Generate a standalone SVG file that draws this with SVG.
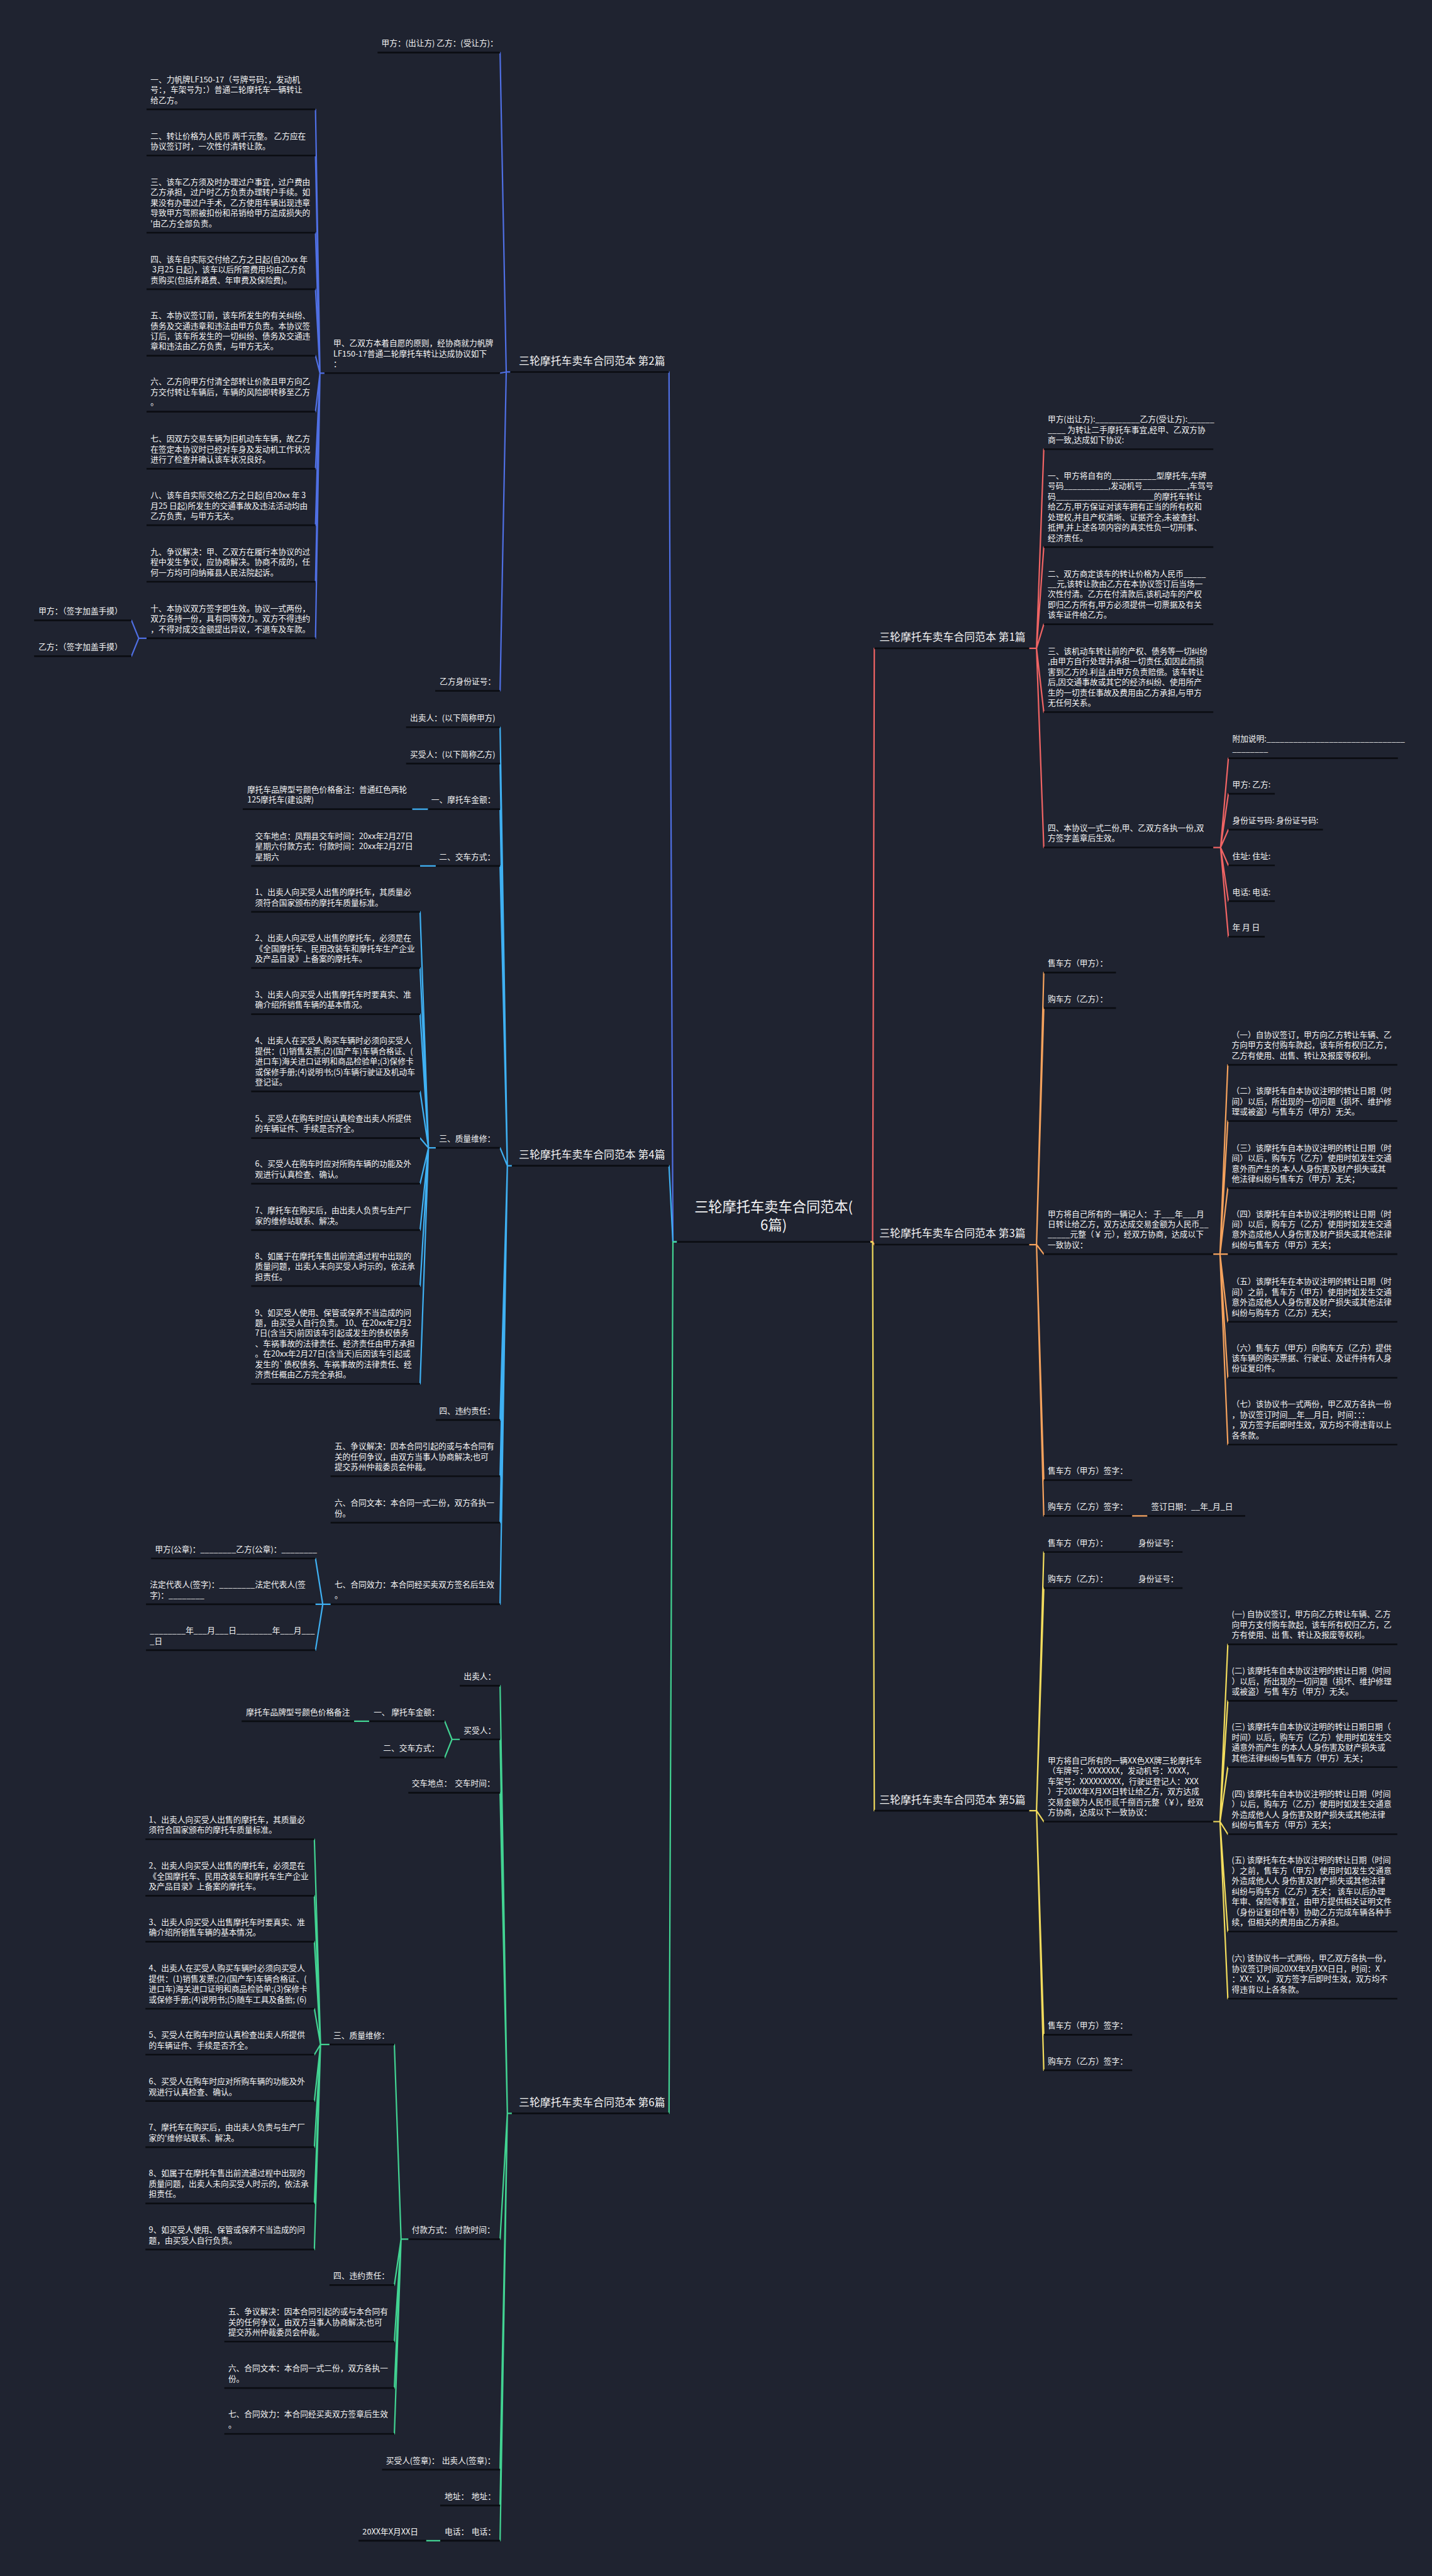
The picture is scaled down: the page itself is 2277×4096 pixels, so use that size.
<svg xmlns="http://www.w3.org/2000/svg" width="2277" height="4096" viewBox="0 0 2277 4096">
<style>
.t{font-family:"Noto Sans CJK SC","Noto Sans",sans-serif;font-size:14.3px;fill:#f4f4f4}
.lb{font-size:19px}
.rt{font-size:25px}
.u{stroke:#0b0d12;stroke-width:3;fill:none}
.k{fill:none;stroke-width:2.5;stroke-linecap:round;stroke-linejoin:round}
.b2{stroke:#4f6fe3}.b4{stroke:#3fb0f2}.b6{stroke:#42d392}.b1{stroke:#f06464}.b3{stroke:#f5a25d}.b5{stroke:#f2dc5d}
</style>
<rect width="2277" height="4096" fill="#1f2330"/>
<g transform="scale(0.889453)">
<g id="connectors">
<path class="k b2" d="M1210 2220H1203L1196 665"/>
<path class="k b4" d="M1210 2220H1203L1196 2084"/>
<path class="k b6" d="M1210 2220H1203L1196 3778"/>
<path class="k b1" d="M1556 2220H1560L1563 1159"/>
<path class="k b3" d="M1556 2220H1560L1563 2225"/>
<path class="k b5" d="M1556 2220H1560L1563 3237"/>
<path class="k b2" d="M912 665H905L894 94M905 665L894 667M905 665L894 1235"/>
<path class="k b2" d="M580 667H572L564 195.5M572 667L564 278M572 667L564 416M572 667L564 517M572 667L564 636M572 667L564 736M572 667L564 838M572 667L564 939M572 667L564 1040M572 667L564 1141"/>
<path class="k b2" d="M262 1141H248L235 1109M248 1141L235 1173"/>
<path class="k b4" d="M915 2084H907L894 1300M907 2084L894 1365M907 2084L894 1446.5M907 2084L894 1548M907 2084L894 2052M907 2084L894 2538.5M907 2084L894 2639M907 2084L894 2722M907 2084L894 2868"/>
<path class="k b4" d="M765 1446.5H737M779 1548H751"/>
<path class="k b4" d="M779 2052H766L751 1630M766 2052L751 1730.5M766 2052L751 1813M766 2052L751 1951M766 2052L751 2034.5M766 2052L751 2116M766 2052L751 2199M766 2052L751 2299M766 2052L751 2474"/>
<path class="k b4" d="M591 2868H577L564 2786M577 2868L564 2868M577 2868L564 2950"/>
<path class="k b6" d="M915 3778H907L894 3013.5M907 3778L894 3109.5M907 3778L894 3205M907 3778L894 4003M907 3778L894 4415M907 3778L894 4479M907 3778L894 4542"/>
<path class="k b6" d="M822 3109.5H808L795 3077M808 3109.5L795 3142M660 3077H633M787 4542H762"/>
<path class="k b6" d="M730 4003H717L705 3655M717 4003L705 4085M717 4003L705 4186M717 4003L705 4269M717 4003L705 4351"/>
<path class="k b6" d="M589 3655H573L562 3288M573 3655L562 3389M573 3655L562 3471M573 3655L562 3591M573 3655L562 3673M573 3655L562 3756M573 3655L562 3838.5M573 3655L562 3939M573 3655L562 4021.5"/>
<path class="k b1" d="M1840 1159H1853L1866 803M1853 1159L1866 978M1853 1159L1866 1116M1853 1159L1866 1273M1853 1159L1866 1515"/>
<path class="k b1" d="M2169 1515H2182L2196 1355.5M2182 1515L2196 1419M2182 1515L2196 1483M2182 1515L2196 1547M2182 1515L2196 1611M2182 1515L2196 1674.5"/>
<path class="k b3" d="M1840 2225H1853L1866 1738.5M1853 2225L1866 1802M1853 2225L1866 2242M1853 2225L1866 2646M1853 2225L1866 2710"/>
<path class="k b3" d="M2169 2242H2181L2195 1903.5M2181 2242L2195 2004M2181 2242L2195 2124M2181 2242L2195 2242M2181 2242L2195 2363M2181 2242L2195 2463M2181 2242L2195 2582.5M2024 2710H2051"/>
<path class="k b5" d="M1840 3237H1853L1866 2774.5M1853 3237L1866 2839M1853 3237L1866 3256.5M1853 3237L1866 3637.5M1853 3237L1866 3701"/>
<path class="k b5" d="M2169 3256.5H2181L2195 2939.5M2181 3256.5L2195 3040.5M2181 3256.5L2195 3159M2181 3256.5L2195 3279M2181 3256.5L2195 3453M2181 3256.5L2195 3573"/>
</g>

<g id="root"><text class="t rt" text-anchor="middle"><tspan x="1383" y="2167">三轮摩托车卖车合同范本(</tspan><tspan x="1383" y="2199">6篇)</tspan></text><path class="u" d="M1210 2220H1556"/></g>

<g id="p2"><text class="t lb" x="1189" y="652" text-anchor="end">三轮摩托车卖车合同范本 第2篇</text><path class="u" d="M912 665H1196"/></g>
<g id="p4"><text class="t lb" x="1189" y="2071" text-anchor="end">三轮摩托车卖车合同范本 第4篇</text><path class="u" d="M915 2084H1196"/></g>
<g id="p6"><text class="t lb" x="1189" y="3765" text-anchor="end">三轮摩托车卖车合同范本 第6篇</text><path class="u" d="M915 3778H1196"/></g>
<g id="p1"><text class="t lb" x="1572" y="1146">三轮摩托车卖车合同范本 第1篇</text><path class="u" d="M1563 1159H1840"/></g>
<g id="p3"><text class="t lb" x="1572" y="2212">三轮摩托车卖车合同范本 第3篇</text><path class="u" d="M1563 2225H1840"/></g>
<g id="p5"><text class="t lb" x="1572" y="3224">三轮摩托车卖车合同范本 第5篇</text><path class="u" d="M1563 3237H1840"/></g>

<!-- 第2篇 -->
<g id="n2-a1"><text class="t" x="682" y="82.5">甲方：(出让方) 乙方：(受让方)：</text><path class="u" d="M675 94H894"/></g>
<g id="n2-a2"><text class="t"><tspan x="596" y="618.5">甲、乙双方本着自愿的原则，经协商就力帆牌</tspan><tspan x="596" y="637">LF150-17普通二轮摩托车转让达成协议如下</tspan><tspan x="596" y="655.5">：</tspan></text><path class="u" d="M580 667H894"/></g>
<g id="n2-a3"><text class="t" x="786" y="1223.5">乙方身份证号：</text><path class="u" d="M778 1235H894"/></g>
<g id="n2-i1"><text class="t"><tspan x="269" y="147">一、力帆牌LF150-17（号牌号码：，发动机</tspan><tspan x="269" y="165.5">号：，车架号为：）普通二轮摩托车一辆转让</tspan><tspan x="269" y="184">给乙方。</tspan></text><path class="u" d="M262 195.5H564"/></g>
<g id="n2-i2"><text class="t"><tspan x="269" y="248">二、转让价格为人民币 两千元整。 乙方应在</tspan><tspan x="269" y="266.5">协议签订时，一次性付清转让款。</tspan></text><path class="u" d="M262 278H564"/></g>
<g id="n2-i3"><text class="t"><tspan x="269" y="330.5">三、该车乙方须及时办理过户事宜，过户费由</tspan><tspan x="269" y="349">乙方承担，过户时乙方负责办理转户手续。如</tspan><tspan x="269" y="367.5">果没有办理过户手术，乙方使用车辆出现违章</tspan><tspan x="269" y="386">导致甲方驾照被扣份和吊销给甲方造成损失的</tspan><tspan x="269" y="404.5">'由乙方全部负责。</tspan></text><path class="u" d="M262 416H564"/></g>
<g id="n2-i4"><text class="t"><tspan x="269" y="468.5">四、该车自实际交付给乙方之日起(自20xx 年</tspan><tspan x="269" y="487"> 3月25 日起)，该车以后所需费用均由乙方负</tspan><tspan x="269" y="505.5">责购买(包括养路费、年审费及保险费)。</tspan></text><path class="u" d="M262 517H564"/></g>
<g id="n2-i5"><text class="t"><tspan x="269" y="569">五、本协议签订前，该车所发生的有关纠纷、</tspan><tspan x="269" y="587.5">债务及交通违章和违法由甲方负责。本协议签</tspan><tspan x="269" y="606">订后，该车所发生的一切纠纷、债务及交通违</tspan><tspan x="269" y="624.5">章和违法由乙方负责，与甲方无关。</tspan></text><path class="u" d="M262 636H564"/></g>
<g id="n2-i6"><text class="t"><tspan x="269" y="687.5">六、乙方向甲方付清全部转让价款且甲方向乙</tspan><tspan x="269" y="706">方交付转让车辆后，车辆的风险即转移至乙方</tspan><tspan x="269" y="724.5">。</tspan></text><path class="u" d="M262 736H564"/></g>
<g id="n2-i7"><text class="t"><tspan x="269" y="789.5">七、因双方交易车辆为旧机动车车辆，故乙方</tspan><tspan x="269" y="808">在签定本协议时已经对车身及发动机工作状况</tspan><tspan x="269" y="826.5">进行了检查并确认该车状况良好。</tspan></text><path class="u" d="M262 838H564"/></g>
<g id="n2-i8"><text class="t"><tspan x="269" y="890.5">八、该车自实际交给乙方之日起(自20xx 年 3</tspan><tspan x="269" y="909">月25 日起)所发生的交通事故及违法活动均由</tspan><tspan x="269" y="927.5">乙方负责，与甲方无关。</tspan></text><path class="u" d="M262 939H564"/></g>
<g id="n2-i9"><text class="t"><tspan x="269" y="991.5">九、争议解决：甲、乙双方在履行本协议的过</tspan><tspan x="269" y="1010">程中发生争议，应协商解决。协商不成的，任</tspan><tspan x="269" y="1028.5">何一方均可向纳雍县人民法院起诉。</tspan></text><path class="u" d="M262 1040H564"/></g>
<g id="n2-i10"><text class="t"><tspan x="269" y="1092.5">十、本协议双方签字即生效。协议一式两份，</tspan><tspan x="269" y="1111">双方各持一份，具有同等效力。双方不得违约</tspan><tspan x="269" y="1129.5">，不得对成交金额提出异议，不退车及车款。</tspan></text><path class="u" d="M262 1141H564"/></g>
<g id="n2-s1"><text class="t" x="69" y="1097.5">甲方：（签字加盖手摸）</text><path class="u" d="M61 1109H235"/></g>
<g id="n2-s2"><text class="t" x="69" y="1161.5">乙方：（签字加盖手摸）</text><path class="u" d="M61 1173H235"/></g>

<!-- 第4篇 -->
<g id="n4-1"><text class="t" x="733" y="1288.5">出卖人：(以下简称甲方)</text><path class="u" d="M726 1300H894"/></g>
<g id="n4-2"><text class="t" x="733" y="1353.5">买受人：(以下简称乙方)</text><path class="u" d="M726 1365H894"/></g>
<g id="n4-3"><text class="t" x="771" y="1435">一、摩托车金额：</text><path class="u" d="M765 1446.5H894"/></g>
<g id="n4-3c"><text class="t"><tspan x="442" y="1416.5">摩托车品牌型号颜色价格备注：普通红色两轮</tspan><tspan x="442" y="1435">125摩托车(建设牌)</tspan></text><path class="u" d="M434 1446.5H737"/></g>
<g id="n4-4"><text class="t" x="785" y="1536.5">二、交车方式：</text><path class="u" d="M779 1548H894"/></g>
<g id="n4-4c"><text class="t"><tspan x="456" y="1499.5">交车地点：凤翔县交车时间：20xx年2月27日</tspan><tspan x="456" y="1518">星期六付款方式：付款时间：20xx年2月27日</tspan><tspan x="456" y="1536.5">星期六</tspan></text><path class="u" d="M449 1548H751"/></g>
<g id="n4-5"><text class="t" x="785" y="2040.5">三、质量维修：</text><path class="u" d="M779 2052H894"/></g>
<g id="n4-q1"><text class="t"><tspan x="456" y="1600">1、出卖人向买受人出售的摩托车，其质量必</tspan><tspan x="456" y="1618.5">须符合国家颁布的摩托车质量标准。</tspan></text><path class="u" d="M449 1630H751"/></g>
<g id="n4-q2"><text class="t"><tspan x="456" y="1682">2、出卖人向买受人出售的摩托车，必须是在</tspan><tspan x="456" y="1700.5">《全国摩托车、民用改装车和摩托车生产企业</tspan><tspan x="456" y="1719">及产品目录》上备案的摩托车。</tspan></text><path class="u" d="M449 1730.5H751"/></g>
<g id="n4-q3"><text class="t"><tspan x="456" y="1783">3、出卖人向买受人出售摩托车时要真实、准</tspan><tspan x="456" y="1801.5">确介绍所销售车辆的基本情况。</tspan></text><path class="u" d="M449 1813H751"/></g>
<g id="n4-q4"><text class="t"><tspan x="456" y="1865.5">4、出卖人在买受人购买车辆时必须向买受人</tspan><tspan x="456" y="1884">提供：(1)销售发票;(2)(国产车)车辆合格证、(</tspan><tspan x="456" y="1902.5">进口车)海关进口证明和商品检验单;(3)保修卡</tspan><tspan x="456" y="1921">或保修手册;(4)说明书;(5)车辆行驶证及机动车</tspan><tspan x="456" y="1939.5">登记证。</tspan></text><path class="u" d="M449 1951H751"/></g>
<g id="n4-q5"><text class="t"><tspan x="456" y="2004.5">5、买受人在购车时应认真检查出卖人所提供</tspan><tspan x="456" y="2023">的车辆证件、手续是否齐全。</tspan></text><path class="u" d="M449 2034.5H751"/></g>
<g id="n4-q6"><text class="t"><tspan x="456" y="2086">6、买受人在购车时应对所购车辆的功能及外</tspan><tspan x="456" y="2104.5">观进行认真检查、确认。</tspan></text><path class="u" d="M449 2116H751"/></g>
<g id="n4-q7"><text class="t"><tspan x="456" y="2169">7、摩托车在购买后，由出卖人负责与生产厂</tspan><tspan x="456" y="2187.5">家的维修站联系、解决。</tspan></text><path class="u" d="M449 2199H751"/></g>
<g id="n4-q8"><text class="t"><tspan x="456" y="2250.5">8、如属于在摩托车售出前流通过程中出现的</tspan><tspan x="456" y="2269">质量问题，出卖人未向买受人时示的，依法承</tspan><tspan x="456" y="2287.5">担责任。</tspan></text><path class="u" d="M449 2299H751"/></g>
<g id="n4-q9"><text class="t"><tspan x="456" y="2351.5">9、如买受人使用、保管或保养不当造成的问</tspan><tspan x="456" y="2370">题，由买受人自行负责。 10、在20xx年2月2</tspan><tspan x="456" y="2388.5">7日(含当天)前因该车引起或发生的债权债务</tspan><tspan x="456" y="2407">、车祸事故的法律责任、经济责任由甲方承担</tspan><tspan x="456" y="2425.5">。在20xx年2月27日(含当天)后因该车引起或</tspan><tspan x="456" y="2444">发生的`债权债务、车祸事故的法律责任、经</tspan><tspan x="456" y="2462.5">济责任概由乙方完全承担。</tspan></text><path class="u" d="M449 2474H751"/></g>
<g id="n4-6"><text class="t" x="785" y="2527">四、违约责任：</text><path class="u" d="M779 2538.5H894"/></g>
<g id="n4-7"><text class="t"><tspan x="598" y="2590.5">五、争议解决：因本合同引起的或与本合同有</tspan><tspan x="598" y="2609">关的任何争议，由双方当事人协商解决;也可</tspan><tspan x="598" y="2627.5">提交苏州仲裁委员会仲裁。</tspan></text><path class="u" d="M591 2639H894"/></g>
<g id="n4-8"><text class="t"><tspan x="598" y="2692">六、合同文本：本合同一式二份，双方各执一</tspan><tspan x="598" y="2710.5">份。</tspan></text><path class="u" d="M591 2722H894"/></g>
<g id="n4-9"><text class="t"><tspan x="598" y="2838">七、合同效力：本合同经买卖双方签名后生效</tspan><tspan x="598" y="2856.5">。</tspan></text><path class="u" d="M591 2868H894"/></g>
<g id="n4-9a"><text class="t" x="277" y="2774.5">甲方(公章)：________乙方(公章)：________</text><path class="u" d="M270 2786H564"/></g>
<g id="n4-9b"><text class="t"><tspan x="268" y="2838">法定代表人(签字)：________法定代表人(签</tspan><tspan x="268" y="2856.5">字)：________</tspan></text><path class="u" d="M261 2868H564"/></g>
<g id="n4-9c"><text class="t"><tspan x="268" y="2920">________年___月___日________年___月___</tspan><tspan x="268" y="2938.5">_日</tspan></text><path class="u" d="M261 2950H564"/></g>

<!-- 第6篇 -->
<g id="n6-1"><text class="t" x="829" y="3002">出卖人：</text><path class="u" d="M822 3013.5H894"/></g>
<g id="n6-2"><text class="t" x="829" y="3098">买受人：</text><path class="u" d="M822 3109.5H894"/></g>
<g id="n6-2a"><text class="t" x="668" y="3065.5">一、 摩托车金额：</text><path class="u" d="M660 3077H795"/></g>
<g id="n6-2ac"><text class="t" x="440" y="3065.5">摩托车品牌型号颜色价格备注</text><path class="u" d="M432 3077H633"/></g>
<g id="n6-2b"><text class="t" x="685" y="3130.5">二、交车方式：</text><path class="u" d="M679 3142H795"/></g>
<g id="n6-3"><text class="t" y="3193.5"><tspan x="736">交车地点：</tspan><tspan x="813">交车时间：</tspan></text><path class="u" d="M730 3205H894"/></g>
<g id="n6-4"><text class="t" y="3991.5"><tspan x="736">付款方式：</tspan><tspan x="813">付款时间：</tspan></text><path class="u" d="M730 4003H894"/></g>
<g id="n6-4a"><text class="t" x="596" y="3643.5">三、质量维修：</text><path class="u" d="M589 3655H705"/></g>
<g id="n6-q1"><text class="t"><tspan x="266" y="3258">1、出卖人向买受人出售的摩托车，其质量必</tspan><tspan x="266" y="3276.5">须符合国家颁布的摩托车质量标准。</tspan></text><path class="u" d="M260 3288H562"/></g>
<g id="n6-q2"><text class="t"><tspan x="266" y="3340.5">2、出卖人向买受人出售的摩托车，必须是在</tspan><tspan x="266" y="3359">《全国摩托车、民用改装车和摩托车生产企业</tspan><tspan x="266" y="3377.5">及产品目录》上备案的摩托车。</tspan></text><path class="u" d="M260 3389H562"/></g>
<g id="n6-q3"><text class="t"><tspan x="266" y="3441">3、出卖人向买受人出售摩托车时要真实、准</tspan><tspan x="266" y="3459.5">确介绍所销售车辆的基本情况。</tspan></text><path class="u" d="M260 3471H562"/></g>
<g id="n6-q4"><text class="t"><tspan x="266" y="3524">4、出卖人在买受人购买车辆时必须向买受人</tspan><tspan x="266" y="3542.5">提供：(1)销售发票;(2)(国产车)车辆合格证、(</tspan><tspan x="266" y="3561">进口车)海关进口证明和商品检验单;(3)保修卡</tspan><tspan x="266" y="3579.5">或保修手册;(4)说明书;(5)随车工具及备胎; (6)</tspan></text><path class="u" d="M260 3591H562"/></g>
<g id="n6-q5"><text class="t"><tspan x="266" y="3643">5、买受人在购车时应认真检查出卖人所提供</tspan><tspan x="266" y="3661.5">的车辆证件、手续是否齐全。</tspan></text><path class="u" d="M260 3673H562"/></g>
<g id="n6-q6"><text class="t"><tspan x="266" y="3726">6、买受人在购车时应对所购车辆的功能及外</tspan><tspan x="266" y="3744.5">观进行认真检查、确认。</tspan></text><path class="u" d="M260 3756H562"/></g>
<g id="n6-q7"><text class="t"><tspan x="266" y="3808.5">7、摩托车在购买后，由出卖人负责与生产厂</tspan><tspan x="266" y="3827">家的'维修站联系、解决。</tspan></text><path class="u" d="M260 3838.5H562"/></g>
<g id="n6-q8"><text class="t"><tspan x="266" y="3890.5">8、如属于在摩托车售出前流通过程中出现的</tspan><tspan x="266" y="3909">质量问题，出卖人未向买受人时示的，依法承</tspan><tspan x="266" y="3927.5">担责任。</tspan></text><path class="u" d="M260 3939H562"/></g>
<g id="n6-q9"><text class="t"><tspan x="266" y="3991.5">9、如买受人使用、保管或保养不当造成的问</tspan><tspan x="266" y="4010">题，由买受人自行负责。</tspan></text><path class="u" d="M260 4021.5H562"/></g>
<g id="n6-4b"><text class="t" x="596" y="4073.5">四、违约责任：</text><path class="u" d="M589 4085H705"/></g>
<g id="n6-4c"><text class="t"><tspan x="408" y="4137.5">五、争议解决：因本合同引起的或与本合同有</tspan><tspan x="408" y="4156">关的任何争议，由双方当事人协商解决;也可</tspan><tspan x="408" y="4174.5">提交苏州仲裁委员会仲裁。</tspan></text><path class="u" d="M401 4186H705"/></g>
<g id="n6-4d"><text class="t"><tspan x="408" y="4239">六、合同文本：本合同一式二份，双方各执一</tspan><tspan x="408" y="4257.5">份。</tspan></text><path class="u" d="M401 4269H705"/></g>
<g id="n6-4e"><text class="t"><tspan x="408" y="4321">七、合同效力：本合同经买卖双方签章后生效</tspan><tspan x="408" y="4339.5">。</tspan></text><path class="u" d="M401 4351H705"/></g>
<g id="n6-5"><text class="t" y="4403.5"><tspan x="690">买受人(签章)：</tspan><tspan x="790">出卖人(签章)：</tspan></text><path class="u" d="M683 4415H894"/></g>
<g id="n6-6"><text class="t" y="4467.5"><tspan x="795">地址：</tspan><tspan x="843">地址：</tspan></text><path class="u" d="M787 4479H894"/></g>
<g id="n6-7"><text class="t" y="4530.5"><tspan x="795">电话：</tspan><tspan x="843">电话：</tspan></text><path class="u" d="M787 4542H894"/></g>
<g id="n6-7c"><text class="t" x="648" y="4530.5">20XX年X月XX日</text><path class="u" d="M641 4542H762"/></g>

<!-- 第1篇 -->
<g id="n1-1"><text class="t"><tspan x="1873" y="754.5">甲方(出让方):__________乙方(受让方):______</tspan><tspan x="1873" y="773">____ 为转让二手摩托车事宜,经甲、乙双方协</tspan><tspan x="1873" y="791.5">商一致,达成如下协议:</tspan></text><path class="u" d="M1866 803H2169"/></g>
<g id="n1-2"><text class="t"><tspan x="1873" y="855.5">一、甲方将自有的__________型摩托车,车牌</tspan><tspan x="1873" y="874">号码__________,发动机号__________,车驾号</tspan><tspan x="1873" y="892.5">码______________________的摩托车转让</tspan><tspan x="1873" y="911">给乙方,甲方保证对该车拥有正当的所有权和</tspan><tspan x="1873" y="929.5">处理权,并且产权清晰、证据齐全,未被查封、</tspan><tspan x="1873" y="948">抵押,并上述各项内容的真实性负一切刑事、</tspan><tspan x="1873" y="966.5">经济责任。</tspan></text><path class="u" d="M1866 978H2169"/></g>
<g id="n1-3"><text class="t"><tspan x="1873" y="1030.5">二、双方商定该车的转让价格为人民币_____</tspan><tspan x="1873" y="1049">__元,该转让款由乙方在本协议签订后当场一</tspan><tspan x="1873" y="1067.5">次性付清。乙方在付清款后,该机动车的产权</tspan><tspan x="1873" y="1086">即归乙方所有,甲方必须提供一切票据及有关</tspan><tspan x="1873" y="1104.5">该车证件给乙方。</tspan></text><path class="u" d="M1866 1116H2169"/></g>
<g id="n1-4"><text class="t"><tspan x="1873" y="1169">三、该机动车转让前的产权、债务等一切纠纷</tspan><tspan x="1873" y="1187.5">,由甲方自行处理并承担一切责任,如因此而损</tspan><tspan x="1873" y="1206">害到乙方的.利益,由甲方负责赔偿。该车转让</tspan><tspan x="1873" y="1224.5">后,因交通事故或其它的经济纠纷、使用所产</tspan><tspan x="1873" y="1243">生的一切责任事故及费用由乙方承担,与甲方</tspan><tspan x="1873" y="1261.5">无任何关系。</tspan></text><path class="u" d="M1866 1273H2169"/></g>
<g id="n1-5"><text class="t"><tspan x="1873" y="1485">四、本协议一式二份,甲、乙双方各执一份,双</tspan><tspan x="1873" y="1503.5">方签字盖章后生效。</tspan></text><path class="u" d="M1866 1515H2169"/></g>
<g id="n1-5a"><text class="t"><tspan x="2203" y="1325.5">附加说明:_______________________________</tspan><tspan x="2203" y="1344">________</tspan></text><path class="u" d="M2196 1355.5H2499"/></g>
<g id="n1-5b"><text class="t" x="2203" y="1407.5">甲方: 乙方:</text><path class="u" d="M2196 1419H2279"/></g>
<g id="n1-5c"><text class="t" x="2203" y="1471.5">身份证号码: 身份证号码:</text><path class="u" d="M2196 1483H2365"/></g>
<g id="n1-5d"><text class="t" x="2203" y="1535.5">住址: 住址:</text><path class="u" d="M2196 1547H2279"/></g>
<g id="n1-5e"><text class="t" x="2203" y="1599.5">电话: 电话:</text><path class="u" d="M2196 1611H2279"/></g>
<g id="n1-5f"><text class="t" x="2203" y="1663">年 月 日</text><path class="u" d="M2196 1674.5H2261"/></g>

<!-- 第3篇 -->
<g id="n3-1"><text class="t" x="1873" y="1727">售车方（甲方）：</text><path class="u" d="M1866 1738.5H1995"/></g>
<g id="n3-2"><text class="t" x="1873" y="1790.5">购车方（乙方）：</text><path class="u" d="M1866 1802H1995"/></g>
<g id="n3-3"><text class="t"><tspan x="1873" y="2175">甲方将自己所有的一辆记人：  于___年___月</tspan><tspan x="1873" y="2193.5">日转让给乙方，双方达成交易金额为人民币__</tspan><tspan x="1873" y="2212">_____元整（￥ 元），经双方协商，达成以下</tspan><tspan x="1873" y="2230.5">一致协议：</tspan></text><path class="u" d="M1866 2242H2169"/></g>
<g id="n3-c1"><text class="t"><tspan x="2202" y="1855">（一）自协议签订，甲方向乙方转让车辆、乙</tspan><tspan x="2202" y="1873.5">方向甲方支付购车款起，该车所有权归乙方，</tspan><tspan x="2202" y="1892">乙方有使用、出售、转让及报废等权利。</tspan></text><path class="u" d="M2195 1903.5H2498"/></g>
<g id="n3-c2"><text class="t"><tspan x="2202" y="1955.5">（二）该摩托车自本协议注明的转让日期（时</tspan><tspan x="2202" y="1974">间）以后，所出现的一切问题（损坏、维护修</tspan><tspan x="2202" y="1992.5">理或被盗）与售车方（甲方）无关。</tspan></text><path class="u" d="M2195 2004H2498"/></g>
<g id="n3-c3"><text class="t"><tspan x="2202" y="2057">（三）该摩托车自本协议注明的转让日期（时</tspan><tspan x="2202" y="2075.5">间）以后，购车方（乙方）使用时如发生交通</tspan><tspan x="2202" y="2094">意外而产生的.本人人身伤害及财产损失或其</tspan><tspan x="2202" y="2112.5">他法律纠纷与售车方（甲方）无关；</tspan></text><path class="u" d="M2195 2124H2498"/></g>
<g id="n3-c4"><text class="t"><tspan x="2202" y="2175">（四）该摩托车自本协议注明的转让日期（时</tspan><tspan x="2202" y="2193.5">间）以后，购车方（乙方）使用时如发生交通</tspan><tspan x="2202" y="2212">意外造成他人人身伤害及财产损失或其他法律</tspan><tspan x="2202" y="2230.5">纠纷与售车方（甲方）无关；</tspan></text><path class="u" d="M2195 2242H2498"/></g>
<g id="n3-c5"><text class="t"><tspan x="2202" y="2296">（五）该摩托车在本协议注明的转让日期（时</tspan><tspan x="2202" y="2314.5">间）之前，售车方（甲方）使用时如发生交通</tspan><tspan x="2202" y="2333">意外造成他人人身伤害及财产损失或其他法律</tspan><tspan x="2202" y="2351.5">纠纷与购车方（乙方）无关；</tspan></text><path class="u" d="M2195 2363H2498"/></g>
<g id="n3-c6"><text class="t"><tspan x="2202" y="2414.5">（六）售车方（甲方）向购车方（乙方）提供</tspan><tspan x="2202" y="2433">该车辆的购买票据、行驶证、及证件持有人身</tspan><tspan x="2202" y="2451.5">份证复印件。</tspan></text><path class="u" d="M2195 2463H2498"/></g>
<g id="n3-c7"><text class="t"><tspan x="2202" y="2515.5">（七）该协议书一式两份，甲乙双方各执一份</tspan><tspan x="2202" y="2534">，协议签订时间__年__月日，时间：：：</tspan><tspan x="2202" y="2552.5">，双方签字后即时生效，双方均不得违背以上</tspan><tspan x="2202" y="2571">各条款。</tspan></text><path class="u" d="M2195 2582.5H2498"/></g>
<g id="n3-4"><text class="t" x="1873" y="2634.5">售车方（甲方）签字：</text><path class="u" d="M1866 2646H2024"/></g>
<g id="n3-5"><text class="t" x="1873" y="2698.5">购车方（乙方）签字：</text><path class="u" d="M1866 2710H2024"/></g>
<g id="n3-5c"><text class="t" x="2058" y="2698.5">签订日期：__年_月_日</text><path class="u" d="M2051 2710H2226"/></g>

<!-- 第5篇 -->
<g id="n5-1"><text class="t" y="2763"><tspan x="1873">售车方（甲方）：</tspan><tspan x="2035">身份证号：</tspan></text><path class="u" d="M1866 2774.5H2114"/></g>
<g id="n5-2"><text class="t" y="2827.5"><tspan x="1873">购车方（乙方）：</tspan><tspan x="2035">身份证号：</tspan></text><path class="u" d="M1866 2839H2114"/></g>
<g id="n5-3"><text class="t"><tspan x="1873" y="3152.5">甲方将自己所有的一辆XX色XX牌三轮摩托车</tspan><tspan x="1873" y="3171">（车牌号：XXXXXXX，发动机号：XXXX，</tspan><tspan x="1873" y="3189.5">车架号：XXXXXXXXX，行驶证登记人：XXX</tspan><tspan x="1873" y="3208">）于20XX年X月XX日转让给乙方，双方达成</tspan><tspan x="1873" y="3226.5">交易金额为人民币贰千捌百元整（￥），经双</tspan><tspan x="1873" y="3245">方协商，达成以下一致协议：</tspan></text><path class="u" d="M1866 3256.5H2169"/></g>
<g id="n5-c1"><text class="t"><tspan x="2202" y="2891">(一) 自协议签订，甲方向乙方转让车辆、乙方</tspan><tspan x="2202" y="2909.5">向甲方支付购车款起，该车所有权归乙方，乙</tspan><tspan x="2202" y="2928">方有使用、出 售、转让及报废等权利。</tspan></text><path class="u" d="M2195 2939.5H2498"/></g>
<g id="n5-c2"><text class="t"><tspan x="2202" y="2992">(二) 该摩托车自本协议注明的转让日期（时间</tspan><tspan x="2202" y="3010.5">）以后，所出现的一切问题（损坏、维护修理</tspan><tspan x="2202" y="3029">或被盗）与售 车方（甲方）无关。</tspan></text><path class="u" d="M2195 3040.5H2498"/></g>
<g id="n5-c3"><text class="t"><tspan x="2202" y="3092">(三) 该摩托车自本协议注明的转让日期日期（</tspan><tspan x="2202" y="3110.5">时间）以后，购车方（乙方）使用时如发生交</tspan><tspan x="2202" y="3129">通意外而产生 的本人人身伤害及财产损失或</tspan><tspan x="2202" y="3147.5">其他法律纠纷与售车方（甲方）无关；</tspan></text><path class="u" d="M2195 3159H2498"/></g>
<g id="n5-c4"><text class="t"><tspan x="2202" y="3212">(四) 该摩托车自本协议注明的转让日期（时间</tspan><tspan x="2202" y="3230.5">）以后，购车方（乙方）使用时如发生交通意</tspan><tspan x="2202" y="3249">外造成他人人 身伤害及财产损失或其他法律</tspan><tspan x="2202" y="3267.5">纠纷与售车方（甲方）无关；</tspan></text><path class="u" d="M2195 3279H2498"/></g>
<g id="n5-c5"><text class="t"><tspan x="2202" y="3330.5">(五) 该摩托车在本协议注明的转让日期（时间</tspan><tspan x="2202" y="3349">）之前，售车方（甲方）使用时如发生交通意</tspan><tspan x="2202" y="3367.5">外造成他人人 身伤害及财产损失或其他法律</tspan><tspan x="2202" y="3386">纠纷与购车方（乙方）无关； 该车以后办理</tspan><tspan x="2202" y="3404.5">年审、保险等事宜，由甲方提供相关证明文件</tspan><tspan x="2202" y="3423">（身份证复印件等）协助乙方完成车辆各种手</tspan><tspan x="2202" y="3441.5">续，但相关的费用由乙方承担。</tspan></text><path class="u" d="M2195 3453H2498"/></g>
<g id="n5-c6"><text class="t"><tspan x="2202" y="3506">(六) 该协议书一式两份，甲乙双方各执一份，</tspan><tspan x="2202" y="3524.5">协议签订时间20XX年X月XX日日，时间：X</tspan><tspan x="2202" y="3543">：XX：XX， 双方签字后即时生效，双方均不</tspan><tspan x="2202" y="3561.5">得违背以上各条款。</tspan></text><path class="u" d="M2195 3573H2498"/></g>
<g id="n5-4"><text class="t" x="1873" y="3626">售车方（甲方）签字：</text><path class="u" d="M1866 3637.5H2024"/></g>
<g id="n5-5"><text class="t" x="1873" y="3689.5">购车方（乙方）签字：</text><path class="u" d="M1866 3701H2024"/></g>
</g>
</svg>
